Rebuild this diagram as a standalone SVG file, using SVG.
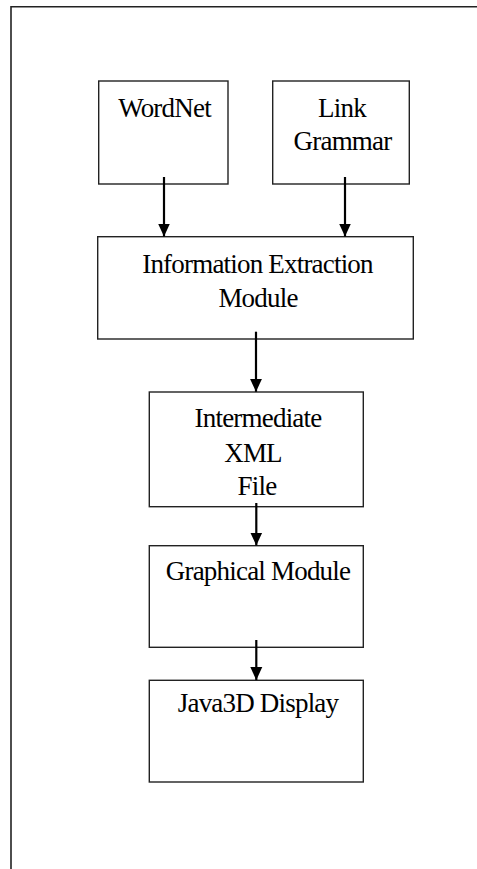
<svg xmlns="http://www.w3.org/2000/svg" width="477" height="869" viewBox="0 0 477 869">
<style>
.box{fill:#fff;stroke:#222;stroke-width:1.4}
.lbl{font-family:"Liberation Serif","Times New Roman",serif;font-size:27px;letter-spacing:-0.8px;fill:#000;text-anchor:middle}
.conn{stroke:#000;stroke-width:2.2;fill:none}
.frame{stroke:#222;stroke-width:1.6;fill:none}
</style>
<defs>
<marker id="ah" markerUnits="userSpaceOnUse" markerWidth="13" markerHeight="14" refX="13" refY="6" orient="auto" viewBox="0 0 13 12">
<path d="M0,0 L13,6 L0,12 Z" fill="#000"/>
</marker>
</defs>
<path class="frame" d="M11,869 V6.8 H477"/>
<g id="wordnet">
<rect class="box" x="98.7" y="81" width="129.3" height="103"/>
<text class="lbl" x="164.5" y="117.3">WordNet</text>
</g>
<g id="linkgrammar">
<rect class="box" x="272.7" y="81" width="136.6" height="103"/>
<text class="lbl" x="342" y="116.7">Link</text>
<text class="lbl" x="342.5" y="150">Grammar</text>
</g>
<g id="infoextraction">
<rect class="box" x="97.7" y="236.7" width="315.6" height="102.3"/>
<text class="lbl" x="257.5" y="273.3">Information Extraction</text>
<text class="lbl" x="258" y="307.3">Module</text>
</g>
<g id="xmlfile">
<rect class="box" x="149.3" y="392" width="214" height="114.7"/>
<text class="lbl" x="258" y="427.3">Intermediate</text>
<text class="lbl" x="253" y="462.3">XML</text>
<text class="lbl" x="257" y="495">File</text>
</g>
<g id="graphical">
<rect class="box" x="149.3" y="545.7" width="214" height="101.6"/>
<text class="lbl" x="258" y="580">Graphical Module</text>
</g>
<g id="java3d">
<rect class="box" x="149.3" y="680.3" width="214" height="101.7"/>
<text class="lbl" x="258" y="712.3">Java3D Display</text>
</g>
<g id="connectors">
<line class="conn" x1="164" y1="177" x2="164" y2="236.5" marker-end="url(#ah)"/>
<line class="conn" x1="345" y1="177" x2="345" y2="236.5" marker-end="url(#ah)"/>
<line class="conn" x1="256" y1="331.7" x2="256" y2="391.8" marker-end="url(#ah)"/>
<line class="conn" x1="256.3" y1="503" x2="256.3" y2="545.5" marker-end="url(#ah)"/>
<line class="conn" x1="256.3" y1="640" x2="256.3" y2="680.1" marker-end="url(#ah)"/>
</g>
</svg>
